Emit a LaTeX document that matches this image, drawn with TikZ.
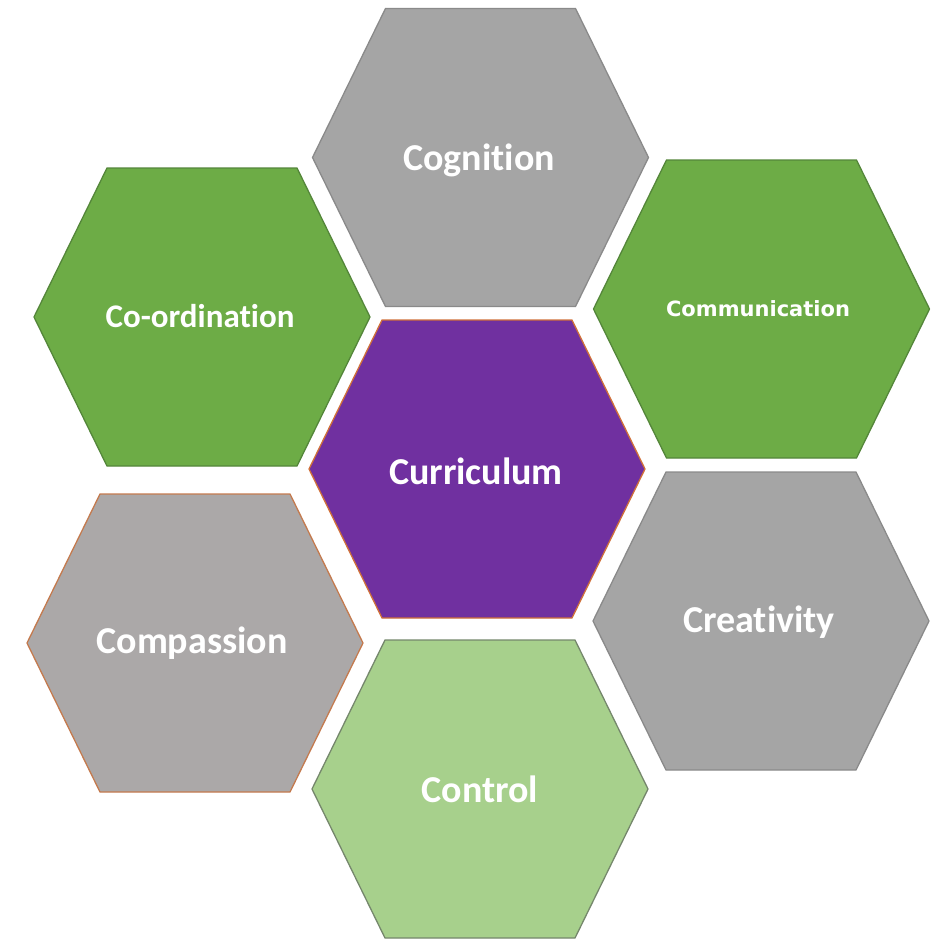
\documentclass[tikz,border=0pt]{standalone}
\usepackage{fontspec}
\setmainfont[Ligatures={NoCommon}]{Carlito}
\newfontfamily\commfont{DejaVu Sans}
\definecolor{hgray}{HTML}{A5A5A5}
\definecolor{hgrayline}{HTML}{8A8A8A}
\definecolor{hgreen}{HTML}{6DAC46}
\definecolor{hgreenline}{HTML}{54863A}
\definecolor{hpurple}{HTML}{7030A0}
\definecolor{hpurpleline}{HTML}{D0703A}
\definecolor{hcomp}{HTML}{ABA8A8}
\definecolor{hcompline}{HTML}{C47A4E}
\definecolor{hlight}{HTML}{A7D08C}
\definecolor{hlightline}{HTML}{75876C}
\tikzset{
  hexshape/.style={line width=1.3pt, line join=miter},
  hexlabel/.style={text=white, font=\bfseries\fontsize{38}{40}\selectfont, inner sep=0pt, anchor=center}
}
\newcommand{\hexcell}[4]{%
  \path[hexshape, fill=#3, draw=#4, shift={(#1,#2)}]
    (-168,0) -- (-95,-149) -- (95,-149) -- (168,0) -- (95,149) -- (-95,149) -- cycle;%
}
\begin{document}
\begin{tikzpicture}[x=1pt,y=-1pt]
\useasboundingbox (0,0) rectangle (939,940);
\hexcell{480.5}{157.5}{hgray}{hgrayline}
\hexcell{202}{317}{hgreen}{hgreenline}
\hexcell{761.5}{309}{hgreen}{hgreenline}
\hexcell{477}{469}{hpurple}{hpurpleline}
\hexcell{195}{643}{hcomp}{hcompline}
\hexcell{761}{621}{hgray}{hgrayline}
\hexcell{480}{789}{hlight}{hlightline}
\node[hexlabel] (cog) at (479,160) {Cognition};
\node[hexlabel, font=\bfseries\fontsize{33}{35}\selectfont] (coord) at (200,316) {Co-ordination};
\node[hexlabel, font=\commfont\bfseries\fontsize{21}{23}\selectfont] (comm) at (758,309) {Communication};
\node[hexlabel] (curr) at (476,471) {Curriculum};
\node[hexlabel] (comp) at (192,643) {Compassion};
\node[hexlabel] (crea) at (759,622) {Creativity};
\node[hexlabel] (ctrl) at (480,789) {Control};
\end{tikzpicture}
\end{document}
